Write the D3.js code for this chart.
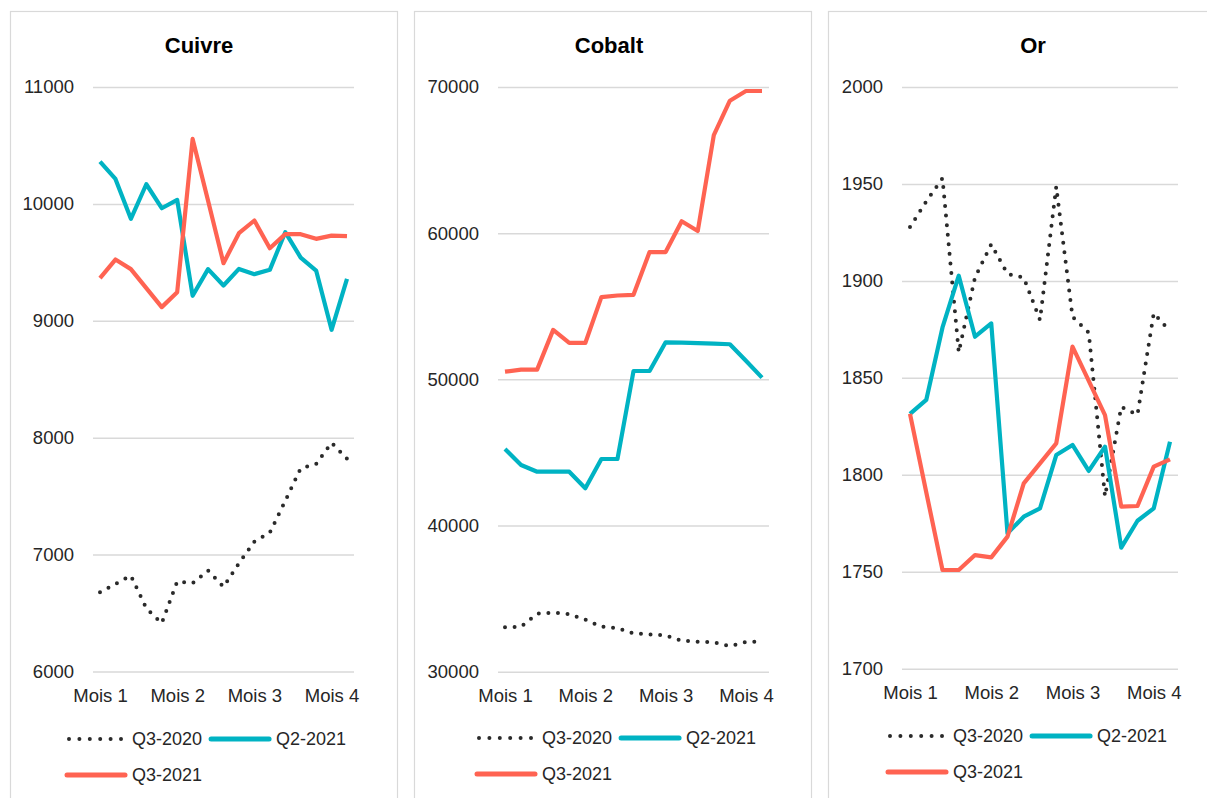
<!DOCTYPE html>
<html>
<head>
<meta charset="utf-8">
<script src="https://cdn.jsdelivr.net/npm/d3@7"></script>
<style>
  html, body { margin: 0; padding: 0; background: #fff; }
  svg { display: block; font-family: "Liberation Sans", Arial, Helvetica, sans-serif; }
</style>
</head>
<body>
<svg id="chart" width="1207" height="798"></svg>
<script>
// ---------- DATA ----------
const monthLabels = ["Mois 1", "Mois 2", "Mois 3", "Mois 4"];
const monthIndex = [0, 5, 10, 15];
const seriesNames = ["Q3-2020", "Q2-2021", "Q3-2021"];
const panelTitles = ["Cuivre", "Cobalt", "Or"];

const cuivreQ3_2020 = [6678, 6749, 6820, 6541, 6413, 6769, 6755, 6863, 6724, 6926, 7111, 7188, 7459, 7738, 7775, 7957, 7820];
const cuivreQ2_2021 = [10362, 10214, 9872, 10168, 9963, 10034, 9214, 9442, 9302, 9444, 9399, 9436, 9758, 9541, 9430, 8923, 9359];
const cuivreQ3_2021 = [9365, 9524, 9442, 9279, 9117, 9245, 10556, 10026, 9493, 9749, 9858, 9621, 9741, 9741, 9701, 9729, 9724];
const cuivreTicks = [6000, 7000, 8000, 9000, 10000, 11000];

const cobaltQ3_2020 = [33034, 33080, 33968, 34036, 33945, 33558, 33080, 32989, 32624, 32556, 32487, 32122, 32054, 32008, 31757, 32031, 32077];
const cobaltQ2_2021 = [45234, 44139, 43683, 43683, 43683, 42545, 44550, 44550, 50571, 50571, 52532, 52510, 52480, 52440, 52400, 51270, 50116];
const cobaltQ3_2021 = [50526, 50663, 50663, 53383, 52491, 52491, 55623, 55737, 55783, 58709, 58709, 60811, 60149, 66709, 69063, 69726, 69726];
const cobaltTicks = [30000, 40000, 50000, 60000, 70000];

const orQ3_2020 = [1927.8, 1941.0, 1952.9, 1863.2, 1901.8, 1918.9, 1903.6, 1901.7, 1879.8, 1948.6, 1881.5, 1873.3, 1788.9, 1835.0, 1831.0, 1883.4, 1874.0];
const orQ2_2021 = [1831.4, 1838.6, 1876.0, 1902.7, 1871.2, 1878.1, 1769.8, 1778.4, 1782.7, 1810.2, 1815.4, 1802.0, 1814.5, 1762.4, 1776.3, 1782.7, 1817.1];
const orQ3_2021 = [1831.4, 1791.0, 1750.9, 1750.9, 1758.6, 1757.4, 1768.1, 1795.6, 1805.9, 1816.2, 1866.1, 1848.4, 1830.8, 1783.6, 1783.9, 1804.2, 1808.0];
const orTicks = [1700, 1750, 1800, 1850, 1900, 1950, 2000];

// ---------- STYLE / LAYOUT ----------
const seriesStyle = [
  { color: "#2a2a2a", width: 4, dash: "0 9.6", cap: "round" },
  { color: "#00b3c3", width: 4.2, dash: null, cap: "butt" },
  { color: "#ff6352", width: 4.2, dash: null, cap: "butt" }
];

const panels = [
  { title: panelTitles[0], series: [cuivreQ3_2020, cuivreQ2_2021, cuivreQ3_2021], ticks: cuivreTicks,
    box: [10, 11, 387], grid: [93, 354], data: [100, 347], y: [671.5, 87], titleX: 199, legendX: 67, legendY: [739, 775] },
  { title: panelTitles[1], series: [cobaltQ3_2020, cobaltQ2_2021, cobaltQ3_2021], ticks: cobaltTicks,
    box: [414, 11, 397], grid: [498, 769], data: [505, 762], y: [671.7, 87], titleX: 609, legendX: 477, legendY: [738, 774] },
  { title: panelTitles[2], series: [orQ3_2020, orQ2_2021, orQ3_2021], ticks: orTicks,
    box: [828, 11, 420], grid: [902, 1178], data: [910, 1170], y: [668.7, 87], titleX: 1033, legendX: 888, legendY: [736, 772] }
];

const svg = d3.select("#chart");

panels.forEach(p => {
  const g = svg.append("g");

  // panel border
  g.append("rect")
    .attr("x", p.box[0] + 0.5).attr("y", p.box[1] + 0.5)
    .attr("width", p.box[2]).attr("height", 820)
    .attr("fill", "none").attr("stroke", "#d9d9d9").attr("stroke-width", 1.2);

  // title
  g.append("text")
    .attr("x", p.titleX).attr("y", 53)
    .attr("text-anchor", "middle")
    .attr("font-size", 22).attr("font-weight", "bold").attr("fill", "#000")
    .text(p.title);

  const yDom = d3.extent(p.ticks);
  const y = d3.scaleLinear().domain(yDom).range(p.y);
  const x = d3.scaleLinear().domain([0, p.series[0].length - 1]).range(p.data);

  // y axis (gridlines + labels)
  const yAxis = d3.axisLeft(y).tickValues(p.ticks).tickSize(-(p.grid[1] - p.grid[0])).tickPadding(19).tickFormat(d3.format("d"));
  const ya = g.append("g").attr("transform", `translate(${p.grid[0]},0)`).call(yAxis);
  ya.select(".domain").remove();
  ya.selectAll(".tick line").attr("stroke", "#d9d9d9").attr("stroke-width", 1.5);
  ya.selectAll(".tick text").attr("font-size", 18.5).attr("fill", "#262626")
    .attr("font-family", "'Liberation Sans', Arial, sans-serif");

  // x axis labels
  const xAxis = d3.axisBottom(x).tickValues(monthIndex).tickSize(0).tickPadding(0)
    .tickFormat((d, i) => monthLabels[i]);
  const xa = g.append("g").attr("transform", `translate(0,${p.y[0]})`).call(xAxis);
  xa.select(".domain").remove();
  xa.selectAll(".tick text").attr("font-size", 18.5).attr("fill", "#262626")
    .attr("dy", null).attr("y", 30)
    .attr("font-family", "'Liberation Sans', Arial, sans-serif");

  // lines
  const line = d3.line().x((d, i) => x(i)).y(d => y(d));
  p.series.forEach((s, k) => {
    const st = seriesStyle[k];
    const path = g.append("path").datum(s)
      .attr("d", line)
      .attr("fill", "none")
      .attr("stroke", st.color)
      .attr("stroke-width", st.width)
      .attr("stroke-linejoin", "round")
      .attr("stroke-linecap", st.cap);
    if (st.dash) path.attr("stroke-dasharray", st.dash);
  });

  // legend
  const sampleLen = 58;
  const leg = g.append("g");
  const items = [
    { k: 0, row: 0 }, { k: 1, row: 0 }, { k: 2, row: 1 }
  ];
  let rowX = [p.legendX, p.legendX];
  items.forEach(it => {
    const st = seriesStyle[it.k];
    const ly = p.legendY[it.row];
    const lx = rowX[it.row];
    const l = leg.append("line")
      .attr("x1", lx + (st.dash ? 2 : 0)).attr("x2", lx + sampleLen)
      .attr("y1", ly).attr("y2", ly)
      .attr("stroke", st.color).attr("stroke-width", st.dash ? 4 : 5)
      .attr("stroke-linecap", "round");
    if (st.dash) l.attr("stroke-dasharray", "0 10.4");
    const t = leg.append("text")
      .attr("x", lx + sampleLen + 7).attr("y", ly).attr("dy", "0.36em")
      .attr("font-size", 18).attr("fill", "#262626")
      .text(seriesNames[it.k]);
    const w = t.node().getComputedTextLength();
    rowX[it.row] = lx + sampleLen + 7 + w + 9;
  });
});
</script>
</body>
</html>
